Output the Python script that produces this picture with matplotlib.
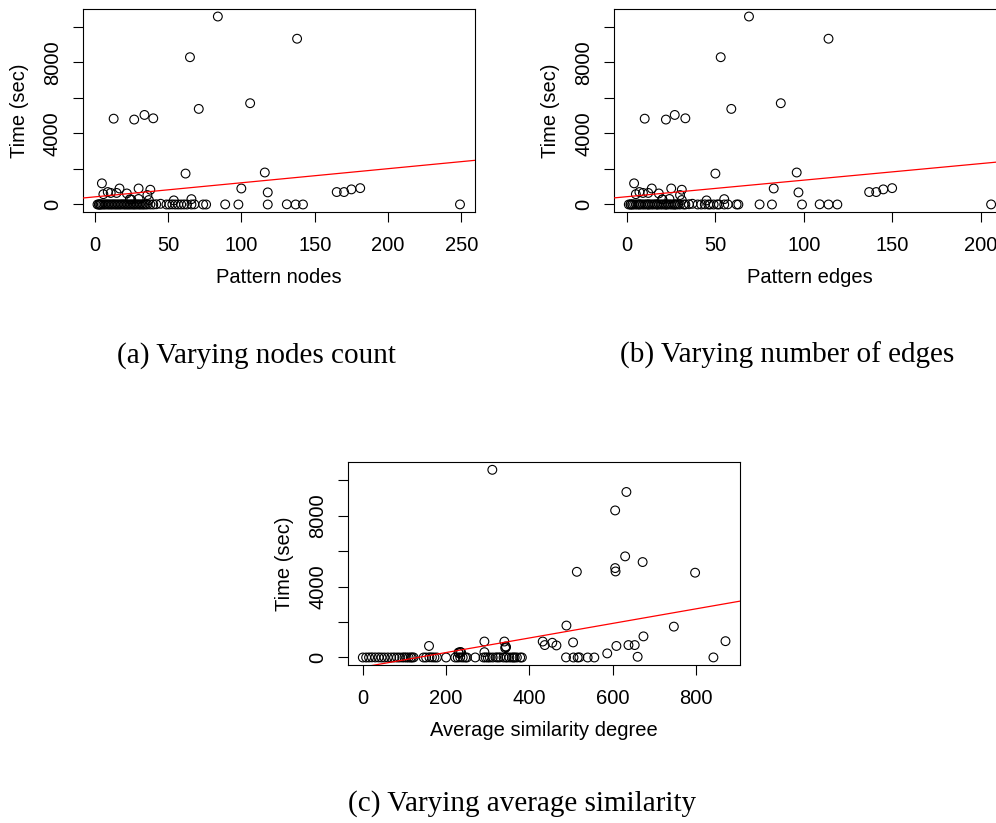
import numpy as np
import matplotlib
matplotlib.use("Agg")
import matplotlib.pyplot as plt

# ---- pattern-matching runs: size of the pattern, average similarity, run time ----
# runs that took noticeable time
nodes_slow = [84, 138, 65, 71, 106, 13, 27, 34, 40, 62, 116, 5, 17, 30, 100, 181, 175,
              38, 165, 170, 118, 9, 11, 15, 22, 6, 25, 30, 36, 37, 54, 66, 24, 45]
edges_slow = [69, 114, 53, 59, 87, 10, 22, 27, 33, 50, 96, 4, 14, 25, 83, 150, 145,
              31, 137, 141, 97, 7, 9, 12, 18, 5, 20, 24, 30, 31, 45, 55, 20, 37]
sim_slow = [311, 633, 606, 672, 630, 514, 798, 606, 607, 747, 489, 674, 292, 340, 432, 871, 505,
            455, 638, 653, 465, 437, 159, 609, 343, 344, 230, 234, 342, 230, 587, 292, 236, 660]
time_slow = [10580, 9330, 8290, 5380, 5700, 4830, 4780, 5040, 4850, 1740, 1800, 1190, 900, 900, 900, 920, 850,
             830, 700, 700, 680, 700, 650, 650, 620, 580, 280, 310, 530, 250, 230, 300, 290, 40]

# runs that finished almost instantly
nodes_fast = [2, 3, 3, 4, 4, 5, 6, 7, 8, 9, 10, 11, 12, 13, 14, 15, 16, 17, 18, 19, 20, 21, 22, 23,
              24, 25, 26, 27, 28, 29, 30, 31, 32, 33, 34, 35, 36, 38, 40, 42, 49, 51, 53, 55, 57, 59,
              61, 63, 66, 68, 74, 76, 89, 98, 118, 131, 137, 142, 249]
edges_fast = [1, 2, 2, 3, 3, 4, 5, 6, 7, 7, 8, 9, 10, 11, 12, 12, 13, 14, 15, 16, 17, 17, 18, 19,
              20, 21, 22, 22, 23, 24, 25, 26, 27, 27, 28, 29, 30, 32, 33, 35, 40, 42, 44, 46, 47, 49,
              51, 52, 55, 57, 62, 63, 75, 82, 99, 109, 114, 119, 206]
sim_fast = [0, 60, 8, 100, 146, 15, 200, 88, 22, 290, 30, 118, 152, 38, 222, 45, 270, 105, 52, 160,
            68, 305, 75, 228, 82, 166, 95, 312, 110, 234, 115, 325, 122, 172, 240, 330, 178, 338,
            246, 345, 250, 352, 295, 358, 362, 365, 370, 378, 300, 320, 345, 382, 488, 506, 516,
            520, 540, 556, 842]
time_fast = [0, 2, 0, 5, 0, 3, 0, 0, 8, 0, 4, 0, 0, 6, 0, 0, 2, 0, 0, 10, 0, 0, 3, 0,
             0, 5, 0, 0, 0, 7, 0, 0, 4, 0, 0, 9, 0, 0, 0, 12, 0, 0, 6, 0, 0, 0,
             3, 0, 0, 8, 0, 0, 5, 0, 0, 10, 0, 0, 4]

nodes = np.array(nodes_slow + nodes_fast, dtype=float)
edges = np.array(edges_slow + edges_fast, dtype=float)
similarity = np.array(sim_slow + sim_fast, dtype=float)
runtime = np.array(time_slow + time_fast, dtype=float)

W, H = 996, 823
SANS = ["Liberation Sans", "DejaVu Sans"]
SERIF = ["Liberation Serif", "DejaVu Serif"]
FS = 14.5

fig = plt.figure(figsize=(W / 100, H / 100), dpi=100)


def rect(left, right, top, bottom):
    return [left / W, 1 - bottom / H, (right - left) / W, (bottom - top) / H]


def padded(v):
    lo, hi = v.min(), v.max()
    span = hi - lo
    return lo - 0.04 * span, hi + 0.04 * span


def panel(box, x, xlabel, xticks):
    ax = fig.add_axes(rect(*box))
    ax.scatter(x, runtime, s=40, facecolors="none", edgecolors="black",
               linewidths=0.8, zorder=2)
    xlo, xhi = padded(x)
    ylo, yhi = padded(runtime)
    slope, icept = np.polyfit(x, runtime, 1)
    xs = np.array([xlo, xhi])
    ax.plot(xs, icept + slope * xs, color="red", lw=0.9, zorder=3)
    ax.set_xlim(xlo, xhi)
    ax.set_ylim(ylo, yhi)

    ax.set_xticks(xticks)
    ax.set_xticklabels([str(t) for t in xticks], fontfamily=SANS, fontsize=FS)
    yt = [0, 2000, 4000, 6000, 8000, 10000]
    ax.set_yticks(yt)
    ax.set_yticklabels(["0", "", "4000", "", "8000", ""], fontfamily=SANS,
                       fontsize=FS, rotation=90, va="center")
    ax.tick_params(axis="both", direction="out", length=7.2, width=0.8, color="black")
    ax.tick_params(axis="x", pad=10)
    ax.tick_params(axis="y", pad=8)
    for sp in ax.spines.values():
        sp.set_linewidth(0.8)
        sp.set_color("black")

    ax.set_xlabel(xlabel, fontfamily=SANS, fontsize=FS)
    ax.xaxis.label.set_va("baseline")
    ax.xaxis.set_label_coords(0.5, -71 / 203)
    ax.set_ylabel("Time (sec)", fontfamily=SANS, fontsize=FS)
    ax.yaxis.label.set_va("baseline")
    ax.yaxis.set_label_coords(-58 / 391.5, 0.5)
    return ax


panel((83, 474.5, 9, 212), nodes, "Pattern nodes", [0, 50, 100, 150, 200, 250])
panel((614.3, 1005.6, 9, 212), edges, "Pattern edges", [0, 50, 100, 150, 200])
panel((348.3, 740, 462.3, 665), similarity, "Average similarity degree", [0, 200, 400, 600, 800])

captions = [
    (256, 363, "(a) Varying nodes count"),
    (787, 363, "(b) Varying number of edges"),
    (522, 811, "(c) Varying average similarity"),
]
for cx, cy, txt in captions:
    fig.text(cx / W, 1 - cy / H, txt, ha="center", va="baseline",
             fontfamily=SERIF, fontsize=21)

fig.savefig("out.png", dpi=100)
